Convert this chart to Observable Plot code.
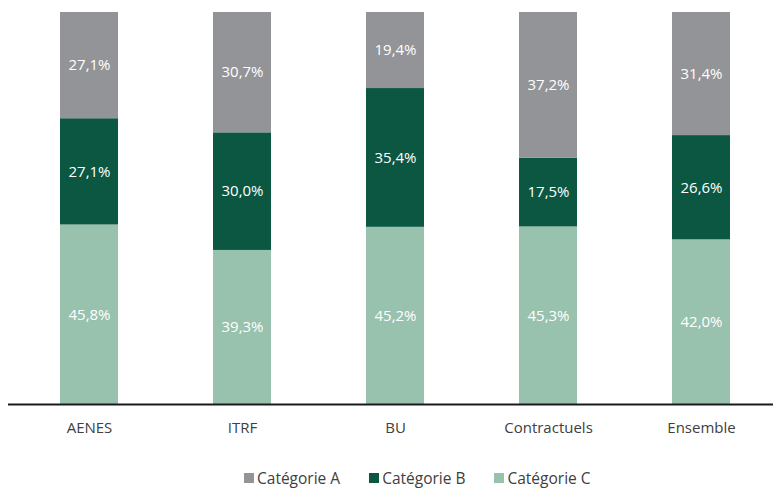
<!DOCTYPE html>
<html>
<head>
<meta charset="utf-8">
<script src="https://cdn.jsdelivr.net/npm/d3@7"></script>
<script src="https://cdn.jsdelivr.net/npm/@observablehq/plot@0.6"></script>
<style>
  html, body { margin: 0; padding: 0; background: #fff; }
  body { width: 773px; height: 488px; overflow: hidden; font-family: "Open Sans", sans-serif; }
  #legend { display: flex; justify-content: flex-start; gap: 29px; font-size: 15.5px; color: #404040; margin-top: 20px; line-height: 20px; padding-left: 244px; }
  #legend span.item { display: inline-flex; align-items: center; }
  #legend span.sw { width: 10px; height: 10px; display: inline-block; margin-right: 3px; }
</style>
</head>
<body>
<div id="chart"></div>
<div id="legend"></div>
<script>
const categories = ["AENES", "ITRF", "BU", "Contractuels", "Ensemble"];
const seriesNames = ["Catégorie A", "Catégorie B", "Catégorie C"];
const catA = [27.1, 30.7, 19.4, 37.2, 31.4];
const catB = [27.1, 30.0, 35.4, 17.5, 26.6];
const catC = [45.8, 39.3, 45.2, 45.3, 42.0];
const colors = ["#939498", "#0b5742", "#98c1ae"];

// stacking order: C bottom, B middle, A top
const rows = [];
categories.forEach((c, i) => {
  rows.push({cat: c, serie: seriesNames[2], value: catC[i]});
  rows.push({cat: c, serie: seriesNames[1], value: catB[i]});
  rows.push({cat: c, serie: seriesNames[0], value: catA[i]});
});

const fmt = v => v.toFixed(1).replace(".", ",") + "%";

const chart = Plot.plot({
  width: 773,
  height: 448,
  marginTop: 12,
  marginBottom: 44,
  marginLeft: 16,
  marginRight: 0,
  style: {fontFamily: "'Open Sans', sans-serif", fontSize: "15px", color: "#404040"},
  x: {domain: categories, paddingInner: 0.623, paddingOuter: 0.273, label: null, tickSize: 0, tickPadding: 18},
  y: {domain: [0, 100], axis: null},
  color: {domain: seriesNames, range: colors},
  marks: [
    Plot.barY(rows, Plot.stackY({x: "cat", y: "value", fill: "serie", order: null})),
    Plot.text(rows, Plot.stackY({x: "cat", y: "value", text: d => fmt(d.value), fill: "white", fontSize: 15, order: null})),
    Plot.ruleY([0], {stroke: "#1a1a1a", strokeWidth: 2, insetLeft: -8})
  ]
});
document.getElementById("chart").appendChild(chart);

const legend = document.getElementById("legend");
seriesNames.forEach((s, i) => {
  const item = document.createElement("span");
  item.className = "item";
  const sw = document.createElement("span");
  sw.className = "sw";
  sw.style.background = colors[i];
  item.appendChild(sw);
  item.appendChild(document.createTextNode(s));
  legend.appendChild(item);
});
</script>
</body>
</html>
